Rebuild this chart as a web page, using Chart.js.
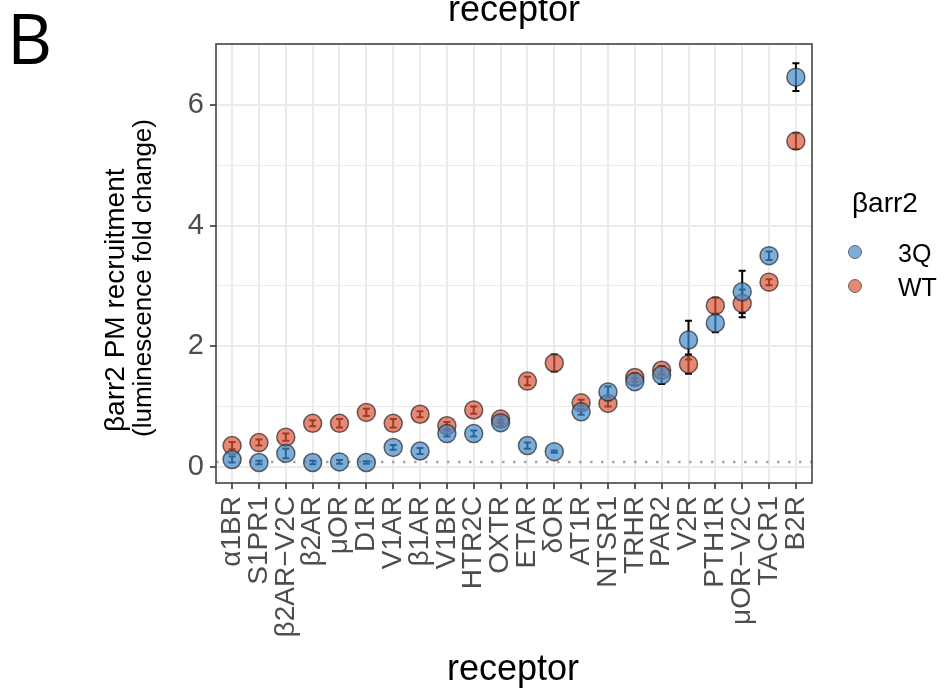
<!DOCTYPE html>
<html>
<head>
<meta charset="utf-8">
<script src="https://cdn.jsdelivr.net/npm/chart.js@4.4.1/dist/chart.umd.min.js"></script>
<style>
  body { margin: 0; background: #fff; }
  #wrap { position: relative; width: 947px; height: 688px; overflow: hidden; font-family: "Liberation Sans", Arial, sans-serif; }
  canvas { position: absolute; left: 0; top: 0; }
  .txt { position: absolute; white-space: nowrap; line-height: 1; color: #000; }
  #panelTag { left: 7px; top: 2px; font-size: 70px; font-family: "Open Sans", "Liberation Sans", sans-serif; }
  #topTitle { left: 514px; top: -9px; font-size: 36px; transform: translateX(-50%); }
  #xTitle { left: 513px; top: 650px; font-size: 36px; transform: translateX(-50%); }
  .ytl { transform-origin: 0 0; transform: rotate(-90deg); }
  #legTitle { left: 852px; top: 189px; font-size: 28px; }
  .key { position: absolute; width: 12px; height: 12px; border-radius: 50%; border: 1px solid #666; }
  .lab { position: absolute; font-size: 25px; line-height: 1; }
</style>
</head>
<body>
<div id="wrap">
  <canvas id="chart" width="947" height="688"></canvas>
  <div class="txt" id="panelTag">B</div>
  <div class="txt" id="topTitle">receptor</div>
  <div class="txt" id="xTitle">receptor</div>
  <div class="txt ytl" style="left:101px; top:432px; font-size:28px;">βarr2 PM recruitment</div>
  <div class="txt ytl" style="left:129px; top:437px; font-size:26px;">(luminescence fold change)</div>
  <div class="txt" id="legTitle">βarr2</div>
  <div class="key" style="left:848px; top:245px; background:rgb(124,174,220);"></div>
  <div class="lab" style="left:898px; top:241px;">3Q</div>
  <div class="key" style="left:848px; top:279px; background:rgb(230,136,115);"></div>
  <div class="lab" style="left:898px; top:275px;">WT</div>
</div>
<script>
const receptors = ['α1BR', 'S1PR1', 'β2AR−V2C', 'β2AR', 'μOR', 'D1R', 'V1AR', 'β1AR', 'V1BR', 'HTR2C', 'OXTR',
  'ETAR', 'δOR', 'AT1R', 'NTSR1', 'TRHR', 'PAR2', 'V2R', 'PTH1R', 'μOR−V2C', 'TACR1', 'B2R'];
const mean3Q = [0.12, 0.07, 0.22, 0.07, 0.08, 0.07, 0.32, 0.26, 0.55, 0.55, 0.73,
  0.35, 0.25, 0.91, 1.24, 1.41, 1.52, 2.10, 2.38, 2.90, 3.50, 6.46];
const err3Q = [0.05, 0.03, 0.08, 0.03, 0.03, 0.02, 0.04, 0.05, 0.05, 0.05, 0.05,
  0.05, 0.02, 0.05, 0.09, 0.06, 0.15, 0.32, 0.15, 0.35, 0.07, 0.23];
const meanWT = [0.35, 0.40, 0.49, 0.72, 0.72, 0.90, 0.72, 0.87, 0.68, 0.94, 0.79,
  1.42, 1.72, 1.06, 1.05, 1.48, 1.60, 1.70, 2.67, 2.71, 3.06, 5.40];
const errWT = [0.06, 0.05, 0.06, 0.05, 0.07, 0.06, 0.07, 0.05, 0.06, 0.06, 0.06,
  0.07, 0.14, 0.05, 0.05, 0.07, 0.07, 0.16, 0.13, 0.23, 0.05, 0.13];
const baseline = [0.08];
const yTicks = [0, 2, 4, 6];

const fill3Q = 'rgba(68,139,205,0.7)';
const fillWT = 'rgba(220,85,55,0.7)';

const extras = {
  id: 'extras',
  beforeDatasetsDraw(chart) {
    const { ctx, chartArea, scales: { x, y } } = chart;
    ctx.save();
    const yb = y.getPixelForValue(baseline[0]);
    ctx.strokeStyle = '#a6a6a6';
    ctx.lineWidth = 2.5;
    ctx.setLineDash([2.5, 8.5]);
    ctx.beginPath();
    ctx.moveTo(chartArea.left, yb);
    ctx.lineTo(chartArea.right, yb);
    ctx.stroke();
    ctx.setLineDash([]);

    // error bars sit under the translucent points
    ctx.strokeStyle = '#000';
    ctx.lineWidth = 2;
    [[mean3Q, err3Q], [meanWT, errWT]].forEach(([m, e]) => {
      m.forEach((v, i) => {
        const px = x.getPixelForValue(i);
        const t = y.getPixelForValue(v + e[i]);
        const b = y.getPixelForValue(v - e[i]);
        ctx.beginPath();
        ctx.moveTo(px, t); ctx.lineTo(px, b);
        ctx.moveTo(px - 3.5, t); ctx.lineTo(px + 3.5, t);
        ctx.moveTo(px - 3.5, b); ctx.lineTo(px + 3.5, b);
        ctx.stroke();
      });
    });
    ctx.restore();
  },
  afterDraw(chart) {
    const { ctx, chartArea } = chart;
    ctx.save();
    ctx.strokeStyle = '#444';
    ctx.lineWidth = 1.6;
    ctx.strokeRect(chartArea.left, chartArea.top, chartArea.right - chartArea.left, chartArea.bottom - chartArea.top);
    ctx.restore();
  }
};

new Chart(document.getElementById('chart'), {
  type: 'scatter',
  data: {
    datasets: [
      {
        label: '3Q',
        data: mean3Q.map((v, i) => ({ x: i, y: v })),
        backgroundColor: fill3Q,
        borderColor: 'rgba(40,40,40,0.7)',
        borderWidth: 1.5,
        pointRadius: 9,
        pointHoverRadius: 9
      },
      {
        label: 'WT',
        data: meanWT.map((v, i) => ({ x: i, y: v })),
        backgroundColor: fillWT,
        borderColor: 'rgba(40,40,40,0.7)',
        borderWidth: 1.5,
        pointRadius: 9,
        pointHoverRadius: 9
      }
    ]
  },
  options: {
    responsive: false,
    animation: false,
    devicePixelRatio: 1,
    layout: { padding: { top: 44, right: 135, bottom: 0, left: 0 } },
    plugins: { legend: { display: false }, tooltip: { enabled: false } },
    scales: {
      x: {
        type: 'linear',
        min: -0.6,
        max: receptors.length - 1 + 0.6,
        afterFit: s => { s.height = 205; },
        afterBuildTicks: s => { s.ticks = receptors.map((r, i) => ({ value: i })); },
        border: { display: false },
        grid: { color: '#ebebeb', lineWidth: 2, tickColor: '#333', tickLength: 6, tickWidth: 1.6 },
        ticks: {
          autoSkip: false,
          minRotation: 90,
          maxRotation: 90,
          padding: 7,
          color: '#4d4d4d',
          font: { family: 'Liberation Sans', size: 28 },
          callback: v => receptors[v]
        }
      },
      y: {
        type: 'linear',
        min: -0.27,
        max: 7.01,
        afterFit: s => { s.width = 216; },
        afterBuildTicks: s => { s.ticks = [0, 1, 2, 3, 4, 5, 6, 7].map(v => ({ value: v })); },
        border: { display: false },
        grid: {
          color: '#ebebeb',
          lineWidth: c => (yTicks.includes(c.tick.value) ? 2 : 1),
          tickColor: c => (yTicks.includes(c.tick.value) ? '#333' : 'rgba(0,0,0,0)'),
          tickLength: 6,
          tickWidth: 1.6
        },
        ticks: {
          padding: 6,
          color: '#4d4d4d',
          font: { family: 'Liberation Sans', size: 29 },
          callback: v => (yTicks.includes(v) ? String(v) : '')
        }
      }
    }
  },
  plugins: [extras]
});
</script>
</body>
</html>
